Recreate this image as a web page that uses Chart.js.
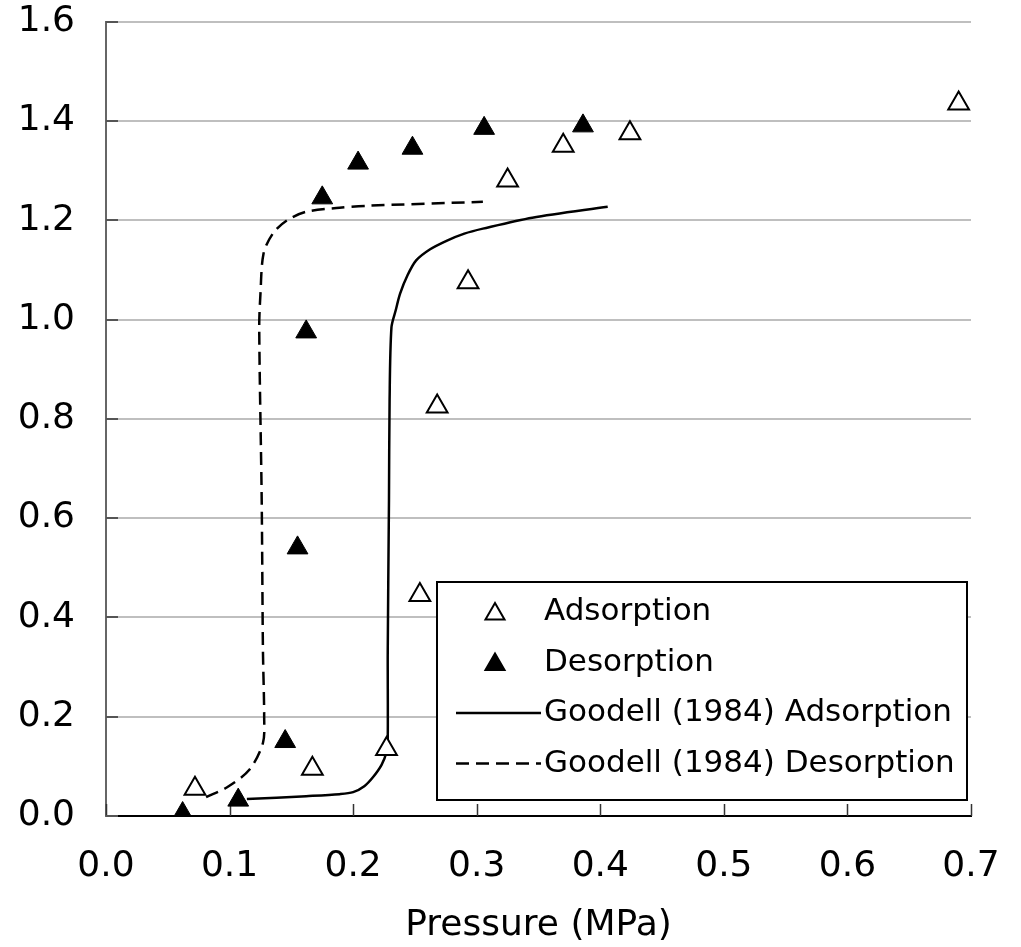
<!DOCTYPE html>
<html lang="en">
<head>
    <meta charset="UTF-8">
    <title>Adsorption / Desorption vs Pressure</title>
    <script src="https://cdn.jsdelivr.net/npm/chart.js@4"></script>
    <style>
        html, body { margin: 0; padding: 0; background: #fff; }
    </style>
</head>
<body>
    <canvas id="isotherm" width="1021" height="947"></canvas>

    <script>
        const adsPressure = [0.072, 0.167, 0.227, 0.254, 0.268, 0.293, 0.325, 0.370, 0.424, 0.690];
        const adsValue    = [0.055, 0.095, 0.135, 0.445, 0.825, 1.075, 1.280, 1.350, 1.375, 1.435];

        const desPressure = [0.062, 0.107, 0.145, 0.155, 0.162, 0.175, 0.204, 0.248, 0.306, 0.386];
        const desValue    = [0.005, 0.032, 0.150, 0.540, 0.975, 1.245, 1.315, 1.345, 1.385, 1.390];

        // Goodell (1984) curves
        const goodAdsPressure = [0.114, 0.162, 0.189, 0.200, 0.209, 0.216, 0.223, 0.227, 0.228, 0.228, 0.229, 0.2295, 0.231, 0.2344, 0.238, 0.244, 0.251, 0.262, 0.276, 0.290, 0.305, 0.345, 0.406];
        const goodAdsValue    = [0.034, 0.040, 0.044, 0.048, 0.060, 0.078, 0.103, 0.129, 0.153, 0.334, 0.636, 0.837, 0.984, 1.018, 1.052, 1.089, 1.119, 1.141, 1.159, 1.173, 1.183, 1.205, 1.227];

        const goodDesPressure = [0.081, 0.098, 0.116, 0.127, 0.128, 0.127, 0.126, 0.124, 0.125, 0.1275, 0.135, 0.146, 0.162, 0.189, 0.211, 0.305];
        const goodDesValue    = [0.038, 0.058, 0.093, 0.147, 0.199, 0.334, 0.636, 0.984, 1.052, 1.133, 1.173, 1.199, 1.217, 1.225, 1.229, 1.237];

        const xTicks = [0, 0.1, 0.2, 0.3, 0.4, 0.5, 0.6, 0.7];
        const yTicks = [0, 0.2, 0.4, 0.6, 0.8, 1.0, 1.2, 1.4, 1.6];

        const toXY = (xs, ys) => xs.map((x, i) => ({ x: x, y: ys[i] }));

        Chart.defaults.font.family = "'DejaVu Sans', Verdana, sans-serif";
        Chart.defaults.color = '#000';

        // small inward tick marks on both axes
        const insideTicks = {
            id: 'insideTicks',
            beforeDatasetsDraw(chart) {
                const { ctx, chartArea: a, scales: { x, y } } = chart;
                ctx.save();
                ctx.lineWidth = 1.5;
                ctx.strokeStyle = '#333';
                xTicks.forEach(v => {
                    const px = Math.round(x.getPixelForValue(v)) + 0.5;
                    ctx.beginPath();
                    ctx.moveTo(px, a.bottom);
                    ctx.lineTo(px, a.bottom - 12);
                    ctx.stroke();
                });
                ctx.strokeStyle = '#555';
                ctx.lineWidth = 2;
                yTicks.forEach(v => {
                    const py = Math.round(y.getPixelForValue(v));
                    ctx.beginPath();
                    ctx.moveTo(a.left, py);
                    ctx.lineTo(a.left + 12, py);
                    ctx.stroke();
                });
                ctx.restore();
            }
        };

        // boxed legend sitting in the lower right of the plot
        const boxLegend = {
            id: 'boxLegend',
            afterDraw(chart) {
                const ctx = chart.ctx;
                const box = { left: 437, top: 582, right: 967, bottom: 800 };
                ctx.save();
                ctx.fillStyle = '#fff';
                ctx.fillRect(box.left, box.top, box.right - box.left, box.bottom - box.top);
                ctx.strokeStyle = '#000';
                ctx.lineWidth = 2;
                ctx.strokeRect(box.left, box.top, box.right - box.left, box.bottom - box.top);

                ctx.font = "31px 'DejaVu Sans', Verdana, sans-serif";
                ctx.textBaseline = 'middle';
                ctx.textAlign = 'left';

                chart.data.datasets.forEach((ds, i) => {
                    const cy = 612 + i * 50.5;
                    ctx.setLineDash([]);
                    if (ds.showLine) {
                        ctx.strokeStyle = ds.borderColor;
                        ctx.lineWidth = ds.borderWidth;
                        ctx.setLineDash(ds.borderDash || []);
                        ctx.beginPath();
                        ctx.moveTo(456, cy);
                        ctx.lineTo(541, cy);
                        ctx.stroke();
                        ctx.setLineDash([]);
                    } else {
                        ctx.fillStyle = ds.pointBackgroundColor;
                        ctx.strokeStyle = ds.pointBorderColor;
                        Chart.helpers.drawPoint(ctx, {
                            pointStyle: 'triangle',
                            radius: 11,
                            borderWidth: ds.pointBorderWidth,
                            rotation: 0
                        }, 495, cy + 2);
                    }
                    ctx.fillStyle = '#000';
                    ctx.fillText(ds.label, 544, cy);
                });
                ctx.restore();
            }
        };

        const chart = new Chart(document.getElementById('isotherm'), {
            type: 'scatter',
            data: {
                datasets: [
                    {
                        label: 'Adsorption',
                        data: toXY(adsPressure, adsValue),
                        pointStyle: 'triangle',
                        pointRadius: 12,
                        pointBackgroundColor: '#fff',
                        pointBorderColor: '#000',
                        pointBorderWidth: 2,
                        showLine: false
                    },
                    {
                        label: 'Desorption',
                        data: toXY(desPressure, desValue),
                        pointStyle: 'triangle',
                        pointRadius: 12,
                        pointBackgroundColor: '#000',
                        pointBorderColor: '#000',
                        pointBorderWidth: 1,
                        showLine: false
                    },
                    {
                        label: 'Goodell (1984) Adsorption',
                        data: toXY(goodAdsPressure, goodAdsValue),
                        showLine: true,
                        borderColor: '#000',
                        borderWidth: 2.5,
                        pointRadius: 0,
                        tension: 0.3
                    },
                    {
                        label: 'Goodell (1984) Desorption',
                        data: toXY(goodDesPressure, goodDesValue),
                        showLine: true,
                        borderColor: '#000',
                        borderWidth: 2.5,
                        borderDash: [13, 7],
                        pointRadius: 0,
                        tension: 0.3
                    }
                ]
            },
            options: {
                responsive: false,
                animation: false,
                layout: { padding: { top: 21, right: 50, bottom: 0, left: 0 } },
                plugins: {
                    legend: { display: false },
                    tooltip: { enabled: false }
                },
                scales: {
                    x: {
                        type: 'linear',
                        min: 0,
                        max: 0.7,
                        afterBuildTicks: scale => { scale.ticks = xTicks.map(v => ({ value: v })); },
                        ticks: {
                            font: { size: 36 },
                            padding: 0,
                            callback: v => v.toFixed(1)
                        },
                        // invisible tick marks only push the labels down
                        grid: { display: false, drawTicks: true, tickLength: 29, tickColor: 'rgba(0,0,0,0)' },
                        border: { display: true, color: '#000', width: 2 },
                        title: {
                            display: true,
                            text: 'Pressure (MPa)',
                            font: { size: 36 },
                            padding: { top: 4, bottom: 0 }
                        },
                        afterFit: scale => { scale.height = 947 - 816; }
                    },
                    y: {
                        type: 'linear',
                        min: 0,
                        max: 1.6,
                        afterBuildTicks: scale => { scale.ticks = yTicks.map(v => ({ value: v })); },
                        ticks: {
                            font: { size: 36 },
                            padding: 0,
                            callback: v => v.toFixed(1)
                        },
                        grid: { color: '#bfbfbf', lineWidth: 2, drawTicks: true, tickLength: 31, tickColor: 'rgba(0,0,0,0)' },
                        border: { display: true, color: '#666', width: 2 },
                        afterFit: scale => { scale.width = 106; }
                    }
                }
            },
            plugins: [insideTicks, boxLegend]
        });
    </script>
</body>
</html>
